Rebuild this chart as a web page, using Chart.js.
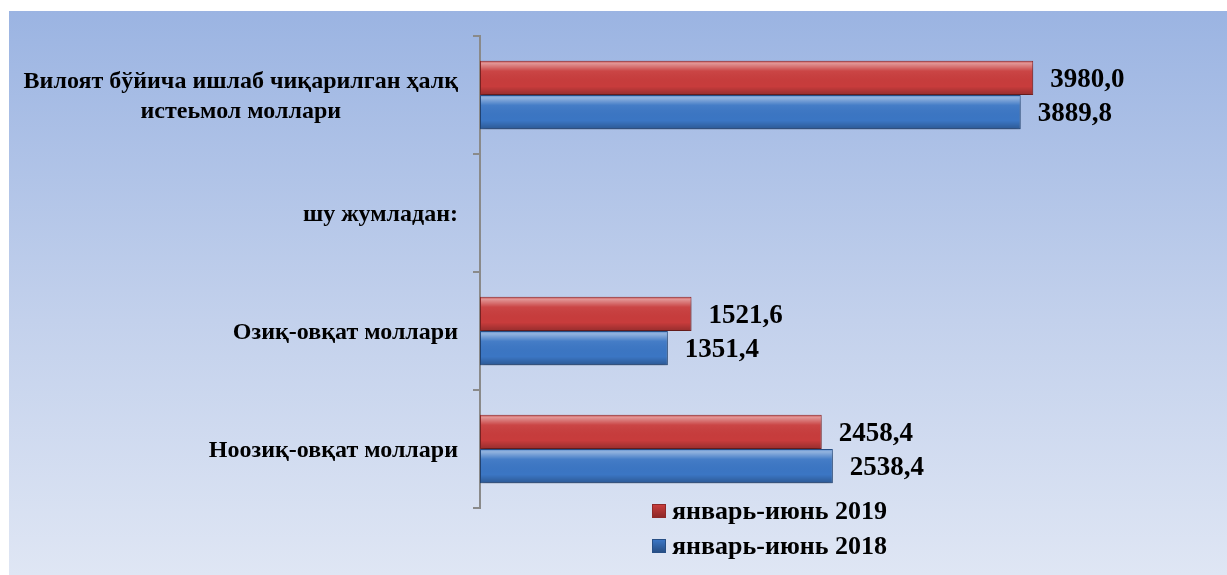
<!DOCTYPE html>
<html>
<head>
<meta charset="utf-8">
<script src="https://cdn.jsdelivr.net/npm/chart.js@4/dist/chart.umd.min.js"></script>
<style>
  body { margin: 0; background: #fff; }
  #bg { position: absolute; left: 9px; top: 11px; width: 1218px; height: 564px;
        background: linear-gradient(#9bb4e2, #c3d1ec 55%, #dfe6f4); }
  #wrap { position: absolute; left: 0; top: 0; width: 1227px; height: 575px; }
  #legend { position: absolute; left: 652px; top: 493px;
            font: bold 26px "Liberation Serif", "Times New Roman", serif; color: #000; }
  .item { display: flex; align-items: center; height: 35px; }
  .box { width: 12px; height: 12px; margin-right: 6px; }
</style>
</head>
<body>
<div id="bg"></div>
<div id="wrap"><canvas id="myChart" width="1227" height="575"></canvas></div>
<div id="legend"></div>
<script>
const categories = [
  ['Вилоят бўйича ишлаб чиқарилган ҳалқ', 'истеьмол моллари'],
  'шу жумладан:',
  'Озиқ-овқат моллари',
  'Ноозиқ-овқат моллари'
];
const series_names = ['январь-июнь 2019', 'январь-июнь 2018'];
const values_2019 = [3980.0, null, 1521.6, 2458.4];
const values_2018 = [3889.8, null, 1351.4, 2538.4];
const bar_colors = ['#c83c3c', '#3b76c4'];
const edge_colors = ['#8e2828', '#274f86'];

const fmt = v => v.toFixed(1).replace('.', ',');

// bevel-ish shading on top of each bar + soft drop shadow
const barShade = {
  id: 'barShade',
  beforeDatasetDraw(chart) {
    const ctx = chart.ctx;
    ctx.shadowColor = 'rgba(0,0,0,0.35)';
    ctx.shadowBlur = 6;
    ctx.shadowOffsetY = 4;
  },
  afterDatasetDraw(chart, args) {
    const ctx = chart.ctx;
    ctx.shadowColor = 'transparent';
    ctx.shadowBlur = 0;
    ctx.shadowOffsetY = 0;
    args.meta.data.forEach(bar => {
      const p = bar.getProps(['x', 'y', 'base', 'height'], true);
      if (!p.x || p.x === p.base) return;
      const top = p.y - p.height / 2, bottom = p.y + p.height / 2;
      const g = ctx.createLinearGradient(0, top, 0, bottom);
      g.addColorStop(0, 'rgba(255,255,255,0.15)');
      g.addColorStop(0.08, 'rgba(255,255,255,0.45)');
      g.addColorStop(0.3, 'rgba(255,255,255,0.05)');
      g.addColorStop(0.75, 'rgba(0,0,0,0.0)');
      g.addColorStop(1, 'rgba(0,0,0,0.25)');
      ctx.save();
      ctx.fillStyle = g;
      ctx.fillRect(p.base + 1, top + 1, p.x - p.base - 2, p.height - 2);
      ctx.restore();
    });
  }
};

const valueLabels = {
  id: 'valueLabels',
  afterDatasetsDraw(chart) {
    const ctx = chart.ctx;
    ctx.save();
    ctx.font = 'bold 27px "Liberation Serif", "Times New Roman", serif';
    ctx.fillStyle = '#000';
    ctx.textAlign = 'left';
    ctx.textBaseline = 'middle';
    chart.data.datasets.forEach((ds, di) => {
      chart.getDatasetMeta(di).data.forEach((bar, i) => {
        if (ds.data[i] == null) return;
        ctx.fillText(fmt(ds.data[i]), bar.x + 17, bar.y + 2);
      });
    });
    ctx.restore();
  }
};

// category names: right aligned blocks, lines centered inside the block
const catLabels = {
  id: 'catLabels',
  afterDraw(chart) {
    const ctx = chart.ctx;
    const y = chart.scales.y;
    ctx.save();
    ctx.font = 'bold 24px "Liberation Serif", "Times New Roman", serif';
    ctx.fillStyle = '#000';
    ctx.textAlign = 'center';
    ctx.textBaseline = 'middle';
    categories.forEach((lab, i) => {
      const lines = Array.isArray(lab) ? lab : [lab];
      const w = Math.max(...lines.map(l => ctx.measureText(l).width));
      const cx = y.right - 22 - w / 2;
      const cy = y.getPixelForValue(i) + 2;
      lines.forEach((l, k) => ctx.fillText(l, cx, cy + (k - (lines.length - 1) / 2) * 30));
    });
    ctx.restore();
  }
};

const ctx = document.getElementById('myChart').getContext('2d');
const chart = new Chart(ctx, {
  type: 'bar',
  data: {
    labels: categories,
    datasets: [{
      label: series_names[0],
      data: values_2019,
      backgroundColor: bar_colors[0],
      borderColor: edge_colors[0],
      borderWidth: 1,
      borderSkipped: false
    }, {
      label: series_names[1],
      data: values_2018,
      backgroundColor: bar_colors[1],
      borderColor: edge_colors[1],
      borderWidth: 1,
      borderSkipped: false
    }]
  },
  options: {
    indexAxis: 'y',
    responsive: false,
    animation: false,
    events: [],
    layout: { padding: { top: 36, bottom: 67, right: 52, left: 0 } },
    datasets: { bar: { categoryPercentage: 0.58, barPercentage: 1.0 } },
    plugins: { legend: { display: false }, tooltip: { enabled: false } },
    scales: {
      x: { display: false, min: 0, max: 5000 },
      y: {
        ticks: { display: false },
        grid: { drawOnChartArea: false, drawTicks: true, tickLength: 7, color: '#8a8a8a', lineWidth: 2 },
        border: { display: true, color: '#8a8a8a', width: 2 },
        afterFit(scale) { scale.width = 480; }
      }
    }
  },
  plugins: [barShade, valueLabels, catLabels]
});

// legend
const legend = document.getElementById('legend');
chart.data.datasets.forEach(ds => {
  const item = document.createElement('div');
  item.className = 'item';
  const box = document.createElement('span');
  box.className = 'box';
  box.style.background = 'linear-gradient(' + ds.backgroundColor + ', ' + ds.borderColor + ')';
  box.style.border = '1px solid ' + ds.borderColor;
  item.appendChild(box);
  item.appendChild(document.createTextNode(ds.label));
  legend.appendChild(item);
});
</script>
</body>
</html>
